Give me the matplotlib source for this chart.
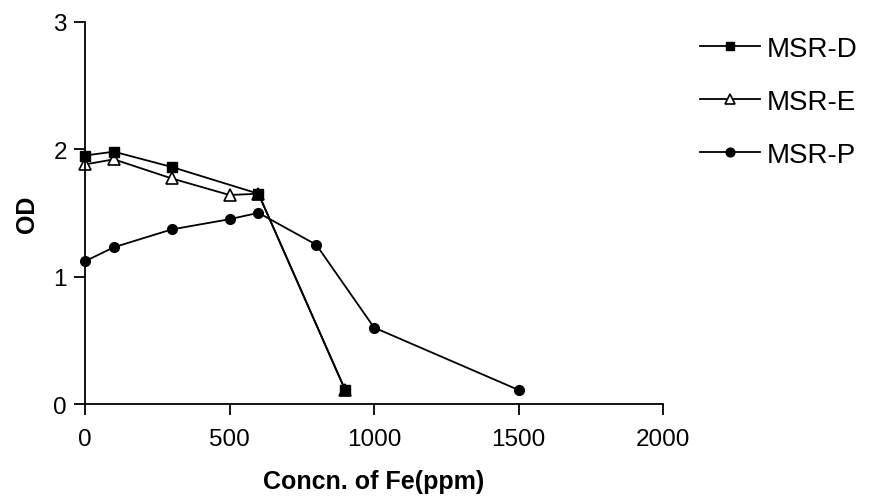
import matplotlib
matplotlib.use("Agg")
import matplotlib.pyplot as plt

plt.rcParams["font.family"] = ["Liberation Sans", "DejaVu Sans"]

# data
conc_d = [0, 100, 300, 600, 900]
od_d = [1.95, 1.98, 1.86, 1.65, 0.11]

conc_e = [0, 100, 300, 500, 600, 900]
od_e = [1.88, 1.92, 1.77, 1.64, 1.65, 0.11]

conc_p = [0, 100, 300, 500, 600, 800, 1000, 1500]
od_p = [1.12, 1.23, 1.37, 1.45, 1.50, 1.25, 0.60, 0.11]

x_ticks = [0, 500, 1000, 1500, 2000]
y_ticks = [0, 1, 2, 3]

fig = plt.figure(figsize=(8.7, 5.02), dpi=100)
ax = fig.add_axes([0.0977, 0.1932, 0.6645, 0.7616])

line_kw = dict(color="black", linewidth=1.3, clip_on=False)
# E drawn first so the squares sit on top where they overlap
h_e, = ax.plot(conc_e, od_e, marker="^", markersize=8, markerfacecolor="white",
               markeredgecolor="black", markeredgewidth=1.2, label="MSR-E", **line_kw)
h_d, = ax.plot(conc_d, od_d, marker="s", markersize=7, markerfacecolor="black",
               markeredgecolor="black", label="MSR-D", **line_kw)
h_p, = ax.plot(conc_p, od_p, marker="o", markersize=7, markerfacecolor="black",
               markeredgecolor="black", label="MSR-P", **line_kw)

ax.set_xlim(0, 2000)
ax.set_ylim(0, 3)
ax.set_xticks(x_ticks)
ax.set_yticks(y_ticks)
ax.spines["top"].set_visible(False)
ax.spines["right"].set_visible(False)
for side in ("left", "bottom"):
    ax.spines[side].set_linewidth(1.3)
ax.tick_params(axis="both", length=8, width=1.3, labelsize=17.5, pad=5)
ax.tick_params(axis="x", pad=9)

ax.set_xlabel("Concn. of Fe(ppm)", fontsize=18, fontweight="bold", labelpad=14)
ax.set_ylabel("OD", fontsize=18, fontweight="bold", labelpad=10)

fig.legend(handles=[h_d, h_e, h_p], loc="upper left",
           bbox_to_anchor=(700 / 870, 1 - 37 / 502), bbox_transform=fig.transFigure,
           frameon=False, fontsize=20, handlelength=2.15, handletextpad=0.25,
           labelspacing=0.97, borderpad=0, borderaxespad=0, markerscale=0.9)

fig.savefig("out.png", dpi=100)
